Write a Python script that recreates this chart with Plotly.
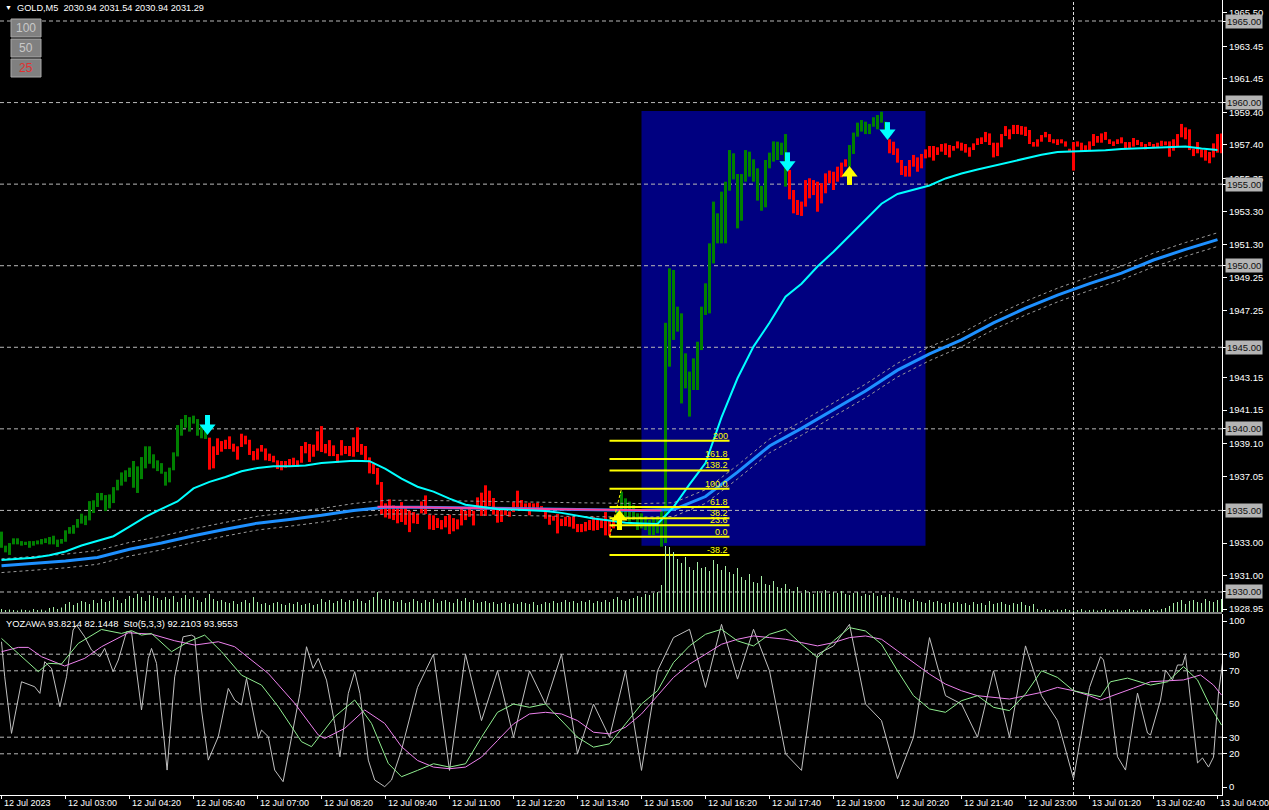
import plotly.graph_objects as go

# ---------------- data ----------------
tick_labels = ["12 Jul 2023", "12 Jul 03:00", "12 Jul 04:20", "12 Jul 05:40", "12 Jul 07:00",
               "12 Jul 08:20", "12 Jul 09:40", "12 Jul 11:00", "12 Jul 12:20", "12 Jul 13:40",
               "12 Jul 15:00", "12 Jul 16:20", "12 Jul 17:40", "12 Jul 19:00", "12 Jul 20:20",
               "12 Jul 21:40", "12 Jul 23:00", "13 Jul 01:20", "13 Jul 02:40", "13 Jul 04:00"]
tick_every = 16

bar_high = [
 1933.70,1932.84,1933.00,1933.29,1933.29,1933.12,1933.08,1933.12,1933.12,1933.16,1933.25,1933.29,1933.37,1933.45,1933.21,1933.25,
 1933.78,1933.98,1934.10,1934.47,1934.80,1934.68,1935.57,1935.62,1936.07,1936.07,1935.94,1935.98,1936.43,1936.88,1937.33,1937.46,
 1937.62,1938.03,1937.70,1938.27,1938.93,1938.93,1938.44,1938.07,1937.90,1937.37,1937.62,1938.56,1940.23,1940.60,1940.85,1940.72,
 1940.81,1940.60,1940.23,1940.03,1939.46,1938.93,1939.42,1939.25,1939.33,1939.54,1939.09,1938.93,1939.70,1939.58,1939.33,1938.64,
 1938.80,1939.01,1938.80,1938.48,1938.35,1938.07,1938.03,1938.03,1938.15,1938.23,1938.07,1938.95,1939.19,1939.07,1939.03,1939.85,
 1940.17,1939.07,1939.31,1938.99,1938.46,1939.31,1938.95,1938.95,1939.48,1940.09,1939.07,1938.95,1938.25,1937.88,1937.60,1936.74,
 1935.43,1935.68,1935.31,1935.15,1935.51,1935.19,1934.98,1934.90,1934.78,1935.55,1935.92,1934.74,1934.70,1934.53,1934.41,1934.66,
 1934.74,1934.53,1934.45,1935.19,1934.98,1935.23,1934.98,1935.80,1936.09,1936.54,1936.21,1935.76,1935.02,1935.15,1935.19,1934.94,
 1935.51,1936.21,1935.64,1935.43,1935.47,1935.43,1935.47,1935.27,1935.02,1934.74,1934.66,1934.78,1934.49,1934.61,1934.61,1934.61,
 1934.17,1934.17,1934.29,1934.41,1934.61,1934.41,1934.49,1934.90,1934.40,1934.50,1935.00,1936.15,1935.74,1935.54,1935.33,1934.82,
 1934.82,1934.62,1934.41,1934.51,1934.62,1935.13,1946.50,1949.84,1949.74,1947.49,1947.08,1944.63,1943.51,1944.32,1945.34,1947.49,
 1948.92,1951.37,1953.93,1953.21,1954.54,1955.15,1957.09,1956.89,1955.62,1955.62,1957.09,1956.99,1956.52,1955.97,1954.89,1956.48,
 1956.93,1957.62,1957.60,1957.54,1958.07,1955.87,1954.64,1954.03,1953.93,1955.25,1955.36,1955.25,1955.15,1955.05,1955.66,1955.83,
 1955.76,1956.07,1956.32,1956.52,1957.40,1958.16,1958.77,1958.93,1958.83,1958.69,1959.10,1959.24,1959.44,1958.83,1957.75,1957.60,
 1957.19,1956.48,1956.11,1956.48,1956.79,1956.64,1956.85,1957.13,1957.34,1957.34,1957.26,1957.46,1957.50,1957.40,1957.34,1957.62,
 1957.54,1957.46,1957.26,1957.50,1957.81,1957.87,1958.20,1958.11,1957.54,1957.54,1958.07,1958.56,1958.36,1958.63,1958.63,1958.56,
 1958.52,1958.32,1957.58,1957.75,1958.01,1958.20,1958.07,1957.75,1957.75,1957.75,1957.62,1957.17,1957.58,1957.62,1957.54,1957.38,
 1957.62,1958.07,1957.95,1958.11,1958.20,1957.75,1957.62,1957.75,1957.87,1957.58,1957.58,1957.83,1957.71,1957.58,1957.46,1957.58,
 1957.46,1957.54,1957.66,1957.62,1957.62,1957.75,1958.07,1958.69,1958.48,1958.36,1957.17,1957.58,1957.13,1957.09,1956.97,1957.50,
 1958.07,1958.11]
bar_low = [
 1932.71,1932.43,1932.27,1932.92,1932.92,1932.84,1932.88,1932.71,1932.84,1932.92,1932.92,1933.00,1932.92,1932.92,1932.76,1932.96,
 1933.08,1933.57,1933.57,1933.94,1934.19,1934.10,1934.39,1934.84,1935.21,1935.62,1934.96,1935.13,1935.45,1936.23,1936.52,1936.76,
 1937.05,1936.39,1936.07,1936.92,1937.58,1937.86,1937.58,1937.41,1937.25,1936.52,1936.72,1937.46,1938.31,1939.58,1940.07,1939.83,
 1940.32,1939.58,1939.42,1939.38,1937.50,1937.58,1938.40,1938.60,1938.76,1938.76,1938.60,1938.11,1938.89,1939.05,1938.40,1938.07,
 1938.11,1938.60,1938.07,1938.03,1937.95,1937.54,1937.46,1937.62,1937.74,1937.66,1937.66,1937.92,1938.50,1937.97,1938.29,1938.66,
 1938.58,1938.50,1938.33,1938.33,1937.92,1938.37,1938.46,1938.33,1938.29,1938.58,1938.41,1938.09,1937.27,1937.23,1936.58,1934.74,
 1934.57,1934.49,1934.41,1934.21,1934.29,1934.12,1933.67,1934.21,1934.17,1934.82,1934.78,1933.84,1933.80,1933.92,1933.84,1933.96,
 1933.55,1933.72,1933.84,1934.08,1934.41,1934.61,1934.08,1935.15,1934.66,1934.66,1935.27,1934.74,1934.25,1934.29,1934.70,1934.61,
 1934.90,1935.19,1934.98,1935.02,1934.70,1934.98,1935.02,1934.98,1934.49,1934.12,1934.37,1933.59,1934.04,1934.04,1934.00,1933.88,
 1933.67,1933.67,1933.72,1933.80,1933.76,1933.80,1933.92,1933.47,1933.45,1933.90,1934.20,1934.51,1934.41,1934.31,1934.41,1933.80,
 1933.90,1933.80,1933.49,1933.49,1933.60,1932.78,1933.00,1943.81,1945.45,1945.96,1941.56,1942.48,1940.75,1942.38,1942.38,1944.83,
 1946.98,1947.08,1950.14,1951.37,1951.37,1951.37,1954.60,1955.29,1952.29,1952.76,1955.15,1955.46,1955.15,1953.99,1953.37,1953.58,
 1955.97,1956.38,1956.48,1956.79,1954.85,1954.07,1953.21,1953.11,1953.05,1953.62,1954.13,1954.33,1953.31,1953.82,1954.44,1955.05,
 1954.64,1955.15,1955.42,1956.07,1956.07,1956.85,1957.91,1958.22,1958.07,1958.07,1958.52,1958.36,1958.77,1958.32,1956.89,1956.79,
 1956.32,1955.56,1955.46,1955.46,1956.07,1955.76,1955.97,1956.58,1956.64,1956.44,1956.79,1956.99,1956.79,1956.64,1957.05,1957.19,
 1957.05,1956.93,1956.68,1957.09,1957.40,1957.46,1957.58,1957.40,1956.64,1956.72,1957.26,1957.95,1957.75,1958.07,1958.07,1958.03,
 1957.95,1957.46,1957.30,1957.30,1957.60,1957.87,1957.58,1957.50,1957.40,1957.50,1957.30,1956.99,1955.83,1957.30,1956.99,1956.99,
 1957.09,1957.34,1957.54,1957.54,1957.71,1957.46,1957.34,1957.46,1957.50,1957.19,1957.19,1957.30,1957.40,1957.30,1957.13,1957.34,
 1957.26,1957.26,1957.34,1957.38,1956.68,1957.05,1957.30,1957.87,1957.75,1957.09,1956.72,1956.89,1956.64,1956.44,1956.28,1956.64,
 1956.93,1956.89]
trend_runs = [("up", 52), ("down", 102), ("up", 43), ("down", 15), ("up", 10), ("down", 84)]

volume = [
 60,40,50,40,30,50,40,30,60,40,50,30,80,100,60,90,
 160,200,140,180,220,200,160,240,180,260,200,220,300,240,180,260,
 320,280,360,300,220,340,320,280,240,300,260,320,200,280,340,260,
 300,240,200,280,360,260,220,240,200,180,220,160,200,240,180,300,
 200,160,180,140,180,200,160,140,180,160,200,140,160,180,140,160,
 260,200,240,180,220,260,200,240,220,260,220,180,240,300,400,260,
 240,260,220,200,240,180,200,260,220,180,240,200,260,180,220,240,
 200,180,260,220,280,200,240,180,200,220,180,200,160,180,200,160,
 180,160,200,180,160,200,140,160,200,180,220,180,200,240,200,220,
 180,220,200,240,180,220,200,240,200,260,300,240,220,260,280,320,
 300,360,340,380,400,540,1320,1300,1200,1060,980,1100,900,840,1000,880,
 900,820,1040,960,840,920,800,760,880,700,640,760,600,580,720,560,
 540,620,500,480,560,460,420,500,380,440,400,360,420,380,440,360,
 400,380,420,360,340,380,400,320,360,340,380,320,340,300,360,300,
 280,260,240,200,260,220,200,180,240,200,220,180,160,200,180,200,
 160,180,140,200,160,180,140,220,160,180,200,160,140,180,160,200,
 140,120,160,60,40,60,40,30,50,40,60,40,30,40,60,30,
 40,50,30,40,60,30,40,50,30,40,60,40,30,50,40,60,
 40,30,60,80,120,180,200,240,160,220,240,200,180,260,220,200,
 240,260]

ma_fast_step = 4
ma_fast = [1931.96,1932.03,1932.10,1932.25,1932.48,1932.85,1933.12,1933.42,1934.00,1934.60,1935.10,1935.55,1936.35,
           1936.75,1937.05,1937.40,1937.60,1937.70,1937.70,1937.75,1937.90,1937.98,1938.05,1938.02,1937.55,1936.95,
           1936.45,1936.15,1935.72,1935.35,1935.20,1935.08,1935.05,1935.02,1934.96,1934.85,1934.68,1934.50,1934.38,
           1934.25,1934.20,1934.17,1935.20,1936.60,1937.90,1940.70,1943.10,1945.04,1946.50,1948.10,1948.90,1949.95,
           1950.86,1951.85,1952.80,1953.80,1954.40,1954.65,1954.92,1955.35,1955.65,1955.90,1956.12,1956.35,1956.58,
           1956.80,1956.97,1957.00,1957.02,1957.08,1957.16,1957.20,1957.24,1957.24,1957.30,1957.18,1957.10]
ma_slow_step = 8
ma_slow = [1931.61,1931.75,1931.90,1932.12,1932.62,1933.00,1933.45,1933.85,1934.22,1934.45,1934.70,1935.00,1935.20,
           1935.20,1935.18,1935.15,1935.12,1935.08,1935.05,1935.02,1935.00,1935.05,1935.85,1937.35,1938.95,1940.03,
           1941.16,1942.32,1943.60,1944.60,1945.45,1946.50,1947.40,1948.20,1948.90,1949.55,1950.35,1951.00,1951.60]
envelope_dev = 0.42

pink_idx = [94, 130, 165]
pink_val = [1935.22, 1935.12, 1935.00]

fib_low, fib_high = 1933.39, 1936.33
fib_ratios = [2.0, 1.618, 1.382, 1.0, 0.618, 0.382, 0.236, 0.0, -0.382]
fib_labels = ["200", "161.8", "138.2", "100.0", "61.8", "38.2", "23.6", "0.0", "-38.2"]
fib_span = (152, 182)
fib_anchor_idx = (152, 155)

box_span = (160, 231)
box_prices = (1932.84, 1959.48)

signals = [  # bar index, direction, tip price, tail price
    (51.5, "down", 1939.62, 1940.85),
    (154.5, "up", 1935.03, 1933.80),
    (196.5, "down", 1955.76, 1956.95),
    (212.0, "up", 1956.11, 1954.95),
    (221.5, "down", 1957.71, 1958.80),
]

level_lines = [1930, 1935, 1940, 1945, 1950, 1955, 1960, 1965]
price_ticks = [1965.50, 1963.45, 1961.45, 1959.40, 1957.40, 1955.35, 1953.30, 1951.30, 1949.25,
               1947.25, 1943.15, 1941.15, 1939.10, 1937.05, 1933.00, 1931.00, 1928.95]
day_sep_idx = 268

# oscillator panel (bar index, value) readings
mag_idx = [0, 4.2, 6.7, 10, 15.8, 20.8, 25, 31.7, 37.5, 43.3, 48.3, 54.2, 58.3, 66.7, 73.3, 79.2, 80.8, 85.8,
           90.8, 95.8, 100, 104, 108, 112, 116, 120, 124, 128, 132, 136, 140, 144, 148, 152, 156, 160, 164,
           168, 172, 176, 180, 184, 188, 192, 196, 200, 204, 208, 212, 216, 220, 224, 228, 232, 236, 240,
           244, 248, 252, 256, 260, 264, 268, 272, 274.75, 283, 287.25, 295.5, 299.75, 303, 305]
mag_val = [81.5, 84.1, 84.1, 78.5, 72.9, 77.5, 84.5, 92.9, 92.1, 88.1, 85.5, 87.5, 84.5, 68.4, 50.4, 31.3, 29.3,
           35.3, 46.4, 38.3, 24.3, 16, 12, 11, 12, 18, 28, 38, 44, 45, 44, 40, 33, 32, 36, 44, 55, 66, 74, 80,
           86, 89, 91, 90, 89, 87, 85, 87, 90, 91, 89, 82, 75, 68, 62, 58, 55, 54, 53, 55, 57, 60, 58, 55,
           52.4, 59.6, 63.4, 64.5, 67.5, 61.4, 55.4]
grn_idx = [0, 3.3, 9.2, 11.7, 15, 19.2, 25, 30, 32.5, 35, 37.5, 42.5, 46.7, 50.8, 55, 60, 65, 69.2, 75, 77.5,
           80, 83.3, 88.3, 90, 92.5, 96.7, 100, 104, 108, 112, 116, 120, 124, 128, 132, 136, 140, 144, 148,
           152, 156, 160, 164, 168, 172, 176, 180, 184, 188, 192, 196, 200, 204, 208, 212, 216, 220, 224,
           228, 232, 236, 240, 244, 248, 252, 256, 260, 264, 268, 272, 274.75, 277.25, 281.5, 287.25, 291.5,
           295.5, 299, 302.25, 305]
grn_val = [89.5, 82.5, 69.5, 74.5, 74.1, 86.5, 94.9, 92.5, 94.2, 91.5, 92.5, 81.5, 87.5, 91.5, 81.5, 67.4,
           61.4, 48.4, 27.3, 24.3, 32.3, 42.3, 52.4, 46.4, 38.3, 14.2, 6.2, 10, 14, 12, 14, 30, 45, 50, 48, 50,
           40, 30, 24, 26, 38, 50, 58, 75, 85, 92, 95, 88, 85, 92, 95, 86, 78, 88, 96, 94, 86, 70, 55, 47, 45,
           52, 55, 48, 46, 56, 70, 66, 58, 56, 54.4, 63.4, 65.6, 61.4, 63.4, 72.5, 64.5, 48.4, 37.3]
gry_idx = [0, 0.8, 2.5, 5, 8.3, 9.6, 10.8, 12.5, 14.6, 16.25, 17.9, 18.75, 20.8, 22.5, 24.6, 25.8, 27.9, 29.2,
           31.25, 32.5, 35, 36.7, 37.5, 38.75, 41.4, 43.3, 45.4, 47.5, 48.3, 50, 51.7, 54.2, 56.7, 58.3, 60,
           61.25, 64.2, 65, 66.7, 68.3, 70.4, 72.5, 74.6, 76.25, 77.9, 79.2, 81.25, 83.3, 84.6, 86.7, 88.3,
           89.6, 91.7, 93.3, 95.8, 97.5, 100, 104, 108, 112, 116, 120, 124, 128, 132, 136, 140, 144, 148,
           152, 156, 160, 164, 168, 172, 176, 180, 184, 188, 192, 196, 200, 204, 208, 212, 216, 220, 224,
           228, 232, 236, 240, 244, 248, 252, 256, 260, 264, 268, 272, 274.75, 275.5, 276.75, 279, 281, 284,
           286.5, 287.25, 289.75, 291, 292.75, 294, 295.25, 296, 296.75, 299, 300.25, 301.75, 303, 304.25,
           305.25]
gry_val = [87.5, 66.4, 32.3, 63.4, 60.4, 56.4, 75.5, 71.5, 48.4, 66.4, 94.6, 97.6, 90.5, 82.5, 78.5, 83.5,
           69.5, 76.5, 93.5, 93.5, 46.4, 77.5, 83.5, 74.5, 10.2, 66.4, 90.5, 91.5, 90.5, 46.4, 16.2, 30.3,
           59.4, 52.4, 49.4, 65.4, 29.3, 34.3, 30.3, 10.2, 3.2, 30.3, 56.4, 84.5, 71.5, 77.5, 64.4, 38.3,
           18.2, 56.4, 69.5, 56.4, 16.2, 4.2, 0.2, 4.2, 22.3, 60, 80, 10, 80, 40, 70, 30, 70, 50, 80, 20, 50,
           30, 70, 10, 70, 90, 95, 60, 98, 65, 95, 70, 20, 10, 80, 85, 98, 50, 40, 5, 30, 90, 55, 50, 30, 70,
           30, 85, 55, 40, 5, 60, 78.5, 76.5, 60.4, 18.2, 10.2, 56.6, 32.5, 31.3, 52.4, 70.5, 64.5, 73.5,
           73.5, 79.5, 62.7, 14.5, 17.5, 12.0, 18.0, 56.6, 74.7]
osc_levels = [20, 30, 50, 70, 80]
osc_ticks = [100, 80, 70, 50, 30, 20, 0]

# ---------------- layout geometry ----------------
W, H = 1269, 810
PW, PH = 1222, 795
PX_PER_USD = 16.314
def pxx(x):
    return x / PW
def pxy(y):
    return 1 - y / PH

main_dom = [pxy(612), 1.0]
low_dom = [0.0, pxy(614)]
n = len(bar_high)
xr = [-0.375, n - 0.875]

fig = go.Figure()

def add_line(xs, ys, color, width, yaxis="y", dash=None):
    fig.add_trace(go.Scatter(x=xs, y=ys, mode="lines", yaxis=yaxis,
                             line=dict(color=color, width=width, dash=dash),
                             hoverinfo="skip", showlegend=False))

for lv in level_lines:
    add_line(xr, [lv, lv], "#B8B8B8", 1, dash="4px,3px")
for lv in osc_levels:
    add_line(xr, [lv, lv], "#B8B8B8", 1, yaxis="y2", dash="4px,3px")

# bars
trend = []
for name, cnt in trend_runs:
    trend += [name] * cnt
bar_colors = {"up": "#008000", "down": "#FF0000"}
for name in ["up", "down"]:
    xs, ys = [], []
    for i in range(n):
        if trend[i] == name:
            xs += [i, i, None]
            ys += [bar_low[i], bar_high[i], None]
    add_line(xs, ys, bar_colors[name], 3)

# volume
vx, vy = [], []
for i, v in enumerate(volume):
    vx += [i, i, None]
    vy += [0, v, None]
add_line(vx, vy, "#A8F0A8", 1, yaxis="y3")

# MAs
slow_x = [i * ma_slow_step for i in range(len(ma_slow))]
add_line(slow_x, [v + envelope_dev for v in ma_slow], "#9A9A9A", 1, dash="3px,3px")
add_line(slow_x, [v - envelope_dev for v in ma_slow], "#9A9A9A", 1, dash="3px,3px")
add_line(slow_x, ma_slow, "#1E90FF", 3)
add_line(pink_idx, pink_val, "#FF3C9C", 2)
fast_x = [i * ma_fast_step for i in range(len(ma_fast))]
add_line(fast_x, ma_fast, "#00FFFF", 2)

# fibonacci
rng = fib_high - fib_low
for r, lab in zip(fib_ratios, fib_labels):
    lv = fib_low + r * rng
    add_line(list(fib_span), [lv, lv], "#FFFF00", 2)
    fig.add_annotation(x=fib_span[1], y=lv, xref="x", yref="y", text=lab, showarrow=False,
                       xanchor="right", yanchor="bottom", yshift=-2,
                       font=dict(color="#FFFF00", size=9))
add_line(list(fib_anchor_idx), [fib_low, fib_high], "#FFFF00", 1, dash="3px,2px")

# oscillator lines
add_line(gry_idx, gry_val, "#C0C0C0", 1, yaxis="y2")
add_line(mag_idx, mag_val, "#EE82EE", 1, yaxis="y2")
add_line(grn_idx, grn_val, "#90EE90", 1, yaxis="y2")

# signal arrows: shaft + triangular head
head_c = 7 / PX_PER_USD
head_b = 9 / PX_PER_USD
for idx, d, tip, tail in signals:
    col = "#00FFFF" if d == "down" else "#FFFF00"
    sgn = 1 if d == "down" else -1
    add_line([idx, idx], [tail, tip + sgn * head_b], col, 5)
    fig.add_trace(go.Scatter(x=[idx], y=[tip + sgn * head_c], mode="markers", hoverinfo="skip",
                             showlegend=False,
                             marker=dict(symbol="triangle-down" if d == "down" else "triangle-up",
                                         size=14, color=col, line=dict(width=0))))

shapes = []
shapes.append(dict(type="rect", xref="x", yref="y", x0=box_span[0], x1=box_span[1],
                   y0=box_prices[0], y1=box_prices[1], fillcolor="#000080", line=dict(width=0),
                   layer="below"))
shapes.append(dict(type="line", xref="x", yref="paper", x0=day_sep_idx, x1=day_sep_idx, y0=0, y1=1,
                   line=dict(color="#E0E0E0", width=1, dash="3px,2px"), layer="below"))
shapes.append(dict(type="line", xref="paper", yref="paper", x0=0, x1=1, y0=pxy(613), y1=pxy(613),
                   line=dict(color="#FFFFFF", width=1)))
btn_texts = ["100", "50", "25"]
btn_cols = ["#C8C8C8", "#C8C8C8", "#E03030"]
for k, (t, c) in enumerate(zip(btn_texts, btn_cols)):
    y0 = 19 + 20 * k
    shapes.append(dict(type="rect", xref="paper", yref="paper", x0=pxx(11), x1=pxx(41),
                       y0=pxy(y0 + 18), y1=pxy(y0), fillcolor="#808080",
                       line=dict(color="#A8A8A8", width=1)))
    fig.add_annotation(x=pxx(26), y=pxy(y0 + 9), xref="paper", yref="paper", text=t, showarrow=False,
                       font=dict(color=c, size=12), xanchor="center", yanchor="middle")

fig.add_annotation(x=pxx(3), y=pxy(8), xref="paper", yref="paper", text="▼", showarrow=False,
                   font=dict(color="#FFFFFF", size=7), xanchor="left", yanchor="middle")
fig.add_annotation(x=pxx(15), y=pxy(8), xref="paper", yref="paper",
                   text="GOLD,M5  2030.94 2031.54 2030.94 2031.29", showarrow=False,
                   font=dict(color="#FFFFFF", size=9.2), xanchor="left", yanchor="middle")
fig.add_annotation(x=pxx(4), y=pxy(623), xref="paper", yref="paper",
                   text="YOZAWA 93.8214 82.1448  Sto(5,3,3) 92.2103 93.9553", showarrow=False,
                   font=dict(color="#FFFFFF", size=9.4), xanchor="left", yanchor="middle")

for lv in level_lines:
    fig.add_annotation(x=1, y=lv, xref="paper", yref="y", text=f"{lv:.2f}", showarrow=False,
                       xanchor="left", yanchor="middle", xshift=3, bgcolor="#B4B4B4", borderpad=1,
                       font=dict(color="#101010", size=9.5))

tick_idx = [k * tick_every for k in range(len(tick_labels))]
for ti, tl in zip(tick_idx, tick_labels):
    fig.add_annotation(x=ti, y=0, xref="x", yref="paper", text=tl, showarrow=False,
                       xanchor="left", yanchor="top", yshift=-1,
                       font=dict(color="#FFFFFF", size=9))

ptv = price_ticks + level_lines
ptt = [f"{v:.2f}" for v in price_ticks] + [""] * len(level_lines)

fig.update_layout(
    width=W, height=H, paper_bgcolor="#000000", plot_bgcolor="#000000",
    margin=dict(l=0, r=W - PW, t=0, b=H - PH),
    font=dict(family="Liberation Sans, Arial, sans-serif", color="#FFFFFF"),
    shapes=shapes, showlegend=False,
    xaxis=dict(range=xr, domain=[0, 1], anchor="y2", showgrid=False, zeroline=False,
               tickvals=tick_idx, showticklabels=False, ticks="outside", ticklen=3,
               tickcolor="#FFFFFF", showline=True, linecolor="#FFFFFF", linewidth=1),
    yaxis=dict(domain=main_dom, range=[1965 - 591 / PX_PER_USD, 1965 + 21 / PX_PER_USD], side="right",
               anchor="x", showgrid=False, zeroline=False, tickvals=ptv, ticktext=ptt,
               ticks="outside", ticklen=4, tickcolor="#FFFFFF", showline=True, linecolor="#FFFFFF",
               tickfont=dict(size=9.5, color="#FFFFFF")),
    yaxis2=dict(domain=low_dom, range=[-4.82, 104.22], side="right", anchor="x", showgrid=False,
                zeroline=False, tickvals=osc_ticks, ticktext=[str(t) for t in osc_ticks],
                ticks="outside", ticklen=4, tickcolor="#FFFFFF", showline=True, linecolor="#FFFFFF",
                tickfont=dict(size=9.5, color="#FFFFFF")),
    yaxis3=dict(overlaying="y", range=[0, 612 * 20], visible=False, anchor="x"),
)

fig.write_html("out.html", config={"displayModeBar": False},
               post_script="document.body.style.margin='0';document.body.style.background='#000';")
